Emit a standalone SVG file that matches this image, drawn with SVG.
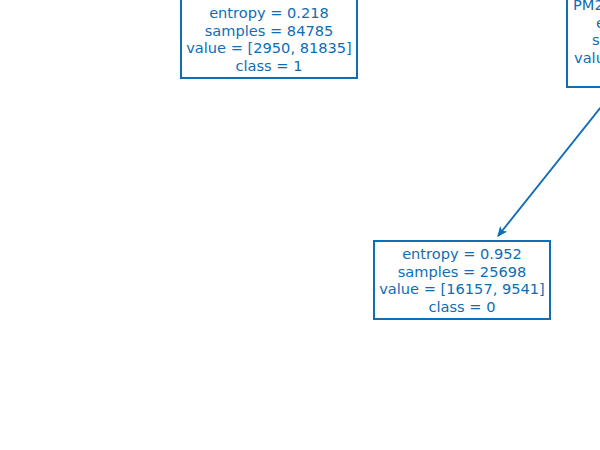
<svg xmlns="http://www.w3.org/2000/svg" width="600" height="450" viewBox="0 0 600 450">
<style>
.box{fill:#fff;stroke:#0f6db3;stroke-width:2}
.t{font-family:"DejaVu Sans",sans-serif;font-size:14.6px;fill:#0f6db3;text-anchor:middle}
.ts{font-family:"DejaVu Sans",sans-serif;font-size:14.6px;fill:#0f6db3}
.edge{stroke:#0f6db3;stroke-width:1.8;fill:none}
</style>
<defs>
<marker id="ah" markerWidth="10" markerHeight="10" refX="9" refY="5" orient="auto" markerUnits="userSpaceOnUse">
<path d="M1,1.5 L9,5 L1,8.5 L3,5 Z" fill="#0f6db3" stroke="#0f6db3" stroke-width="1"/>
</marker>
</defs>
<rect width="600" height="450" fill="#fff"/>
<g id="connectors">
<line class="edge" x1="601" y1="107" x2="498" y2="236" marker-end="url(#ah)"/>
</g>
<g id="node-left">
<rect class="box" x="181" y="-10" width="176" height="88"/>
<text class="t" x="269" y="18">entropy = 0.218</text>
<text class="t" x="269" y="35.5">samples = 84785</text>
<text class="t" x="269" y="53">value = [2950, 81835]</text>
<text class="t" x="269" y="70.5">class = 1</text>
</g>
<g id="node-right">
<rect class="box" x="567" y="-10" width="60" height="97"/>
<text class="ts" x="573" y="10">PM2.5</text>
<text class="ts" x="596" y="27.5">entropy</text>
<text class="ts" x="592" y="45">samples</text>
<text class="ts" x="574" y="62.5">value</text>
</g>
<g id="node-bottom">
<rect class="box" x="374" y="241" width="176" height="78"/>
<text class="t" x="462" y="259">entropy = 0.952</text>
<text class="t" x="462" y="276.5">samples = 25698</text>
<text class="t" x="462" y="294">value = [16157, 9541]</text>
<text class="t" x="462" y="311.5">class = 0</text>
</g>
</svg>
